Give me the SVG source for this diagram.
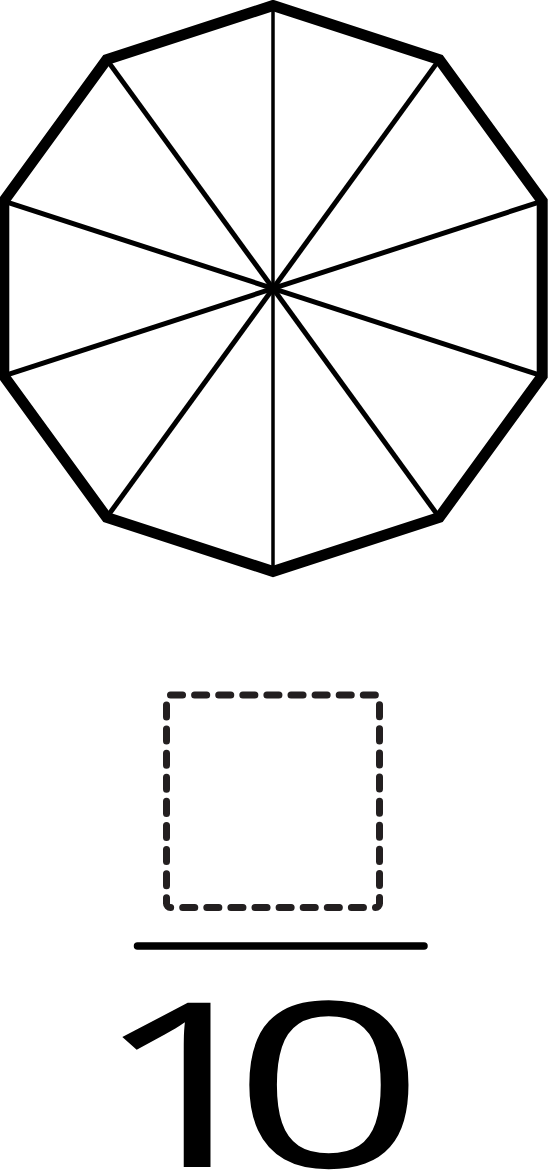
<svg xmlns="http://www.w3.org/2000/svg" width="548" height="1175" viewBox="0 0 548 1175">
  <style>
    .rim { fill: #ffffff; stroke: #000000; stroke-width: 11; stroke-linejoin: miter; stroke-miterlimit: 10; }
    .spoke { stroke: #000000; stroke-width: 5; }
    .spoke-v { stroke: #000000; stroke-width: 3.5; }
    .blank { fill: none; stroke: #231f20; stroke-width: 7; stroke-linecap: round; stroke-dasharray: 12 12; }
    .bar { stroke: #000000; stroke-width: 7.5; stroke-linecap: round; }
    .num { font-family: "Open Sans", "Noto Sans", "Liberation Sans", sans-serif; font-size: 230px; fill: #000000; }
  </style>
  <g id="decagon">
    <polygon class="rim" points="273,5.5 439.3,59.6 542.2,201.1 542.2,375.9 439.3,517.4 273,571.5 106.7,517.4 3.8,375.9 3.8,201.1 106.7,59.6"/>
    <line class="spoke-v" x1="273" y1="5.5" x2="273" y2="571.5"/>
    <line class="spoke" x1="439.3" y1="59.6" x2="106.7" y2="517.4"/>
    <line class="spoke" x1="542.2" y1="201.1" x2="3.8" y2="375.9"/>
    <line class="spoke" x1="542.2" y1="375.9" x2="3.8" y2="201.1"/>
    <line class="spoke" x1="439.3" y1="517.4" x2="106.7" y2="59.6"/>
  </g>
  <g id="blank-box">
    <rect class="blank" x="166.5" y="695" width="213" height="212.5" rx="4" pathLength="840"/>
  </g>
  <g id="fraction-bar">
    <line class="bar" x1="137.5" y1="946" x2="424" y2="946"/>
  </g>
  <g id="denominator">
    <text class="num" transform="scale(1.47 1)" x="128.2 223.8" y="1167" text-anchor="middle">10</text>
  </g>
</svg>
